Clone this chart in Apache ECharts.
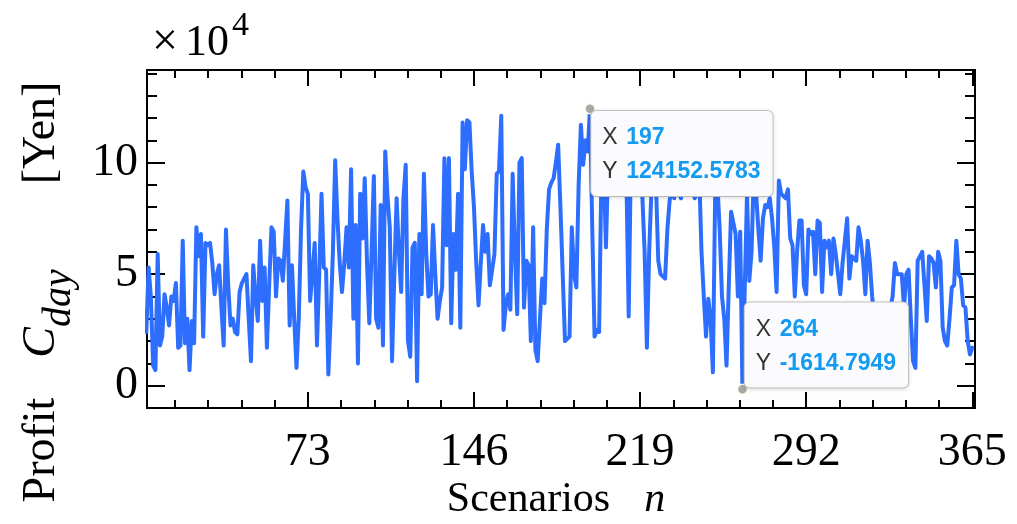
<!DOCTYPE html>
<html><head><meta charset="utf-8">
<script src="https://cdn.jsdelivr.net/npm/echarts@6/dist/echarts.min.js"></script>
<style>html,body{margin:0;padding:0;background:#fff}#c{width:1017px;height:524px}</style>
</head><body><div id="c"></div>
<script>
// Daily profit per scenario (Yen), scenario n = 1..365
const profit = [
25000,24000,53000,40000,9000,7000,59000,18000,22000,41000,
35000,27000,40000,38000,46000,17000,18000,65000,19000,30000,
7000,29000,19000,71000,58000,68000,22000,64000,63000,64000,
55000,41000,50000,54000,35000,18000,70000,45000,27000,30000,
24000,23000,42000,46000,48000,50000,30000,11000,54000,40000,
29000,65000,38000,53000,17000,45000,71000,69000,40000,57000,
56000,47000,65000,83000,27000,54000,30000,8000,30000,70000,
96000,89000,86000,38000,50000,64000,18000,50000,86000,53000,
52000,5000,30000,60000,101000,75000,55000,42000,55000,71000,
53000,97000,30000,72000,10000,86000,66000,93000,55000,28000,
60000,94000,30000,26000,81000,18000,105000,85000,71000,11000,
50000,84000,60000,42000,84000,99000,20000,13000,62000,64000,
2000,68000,41000,95000,60000,40000,41000,72000,50000,30000,
38000,44000,102000,63000,102000,28000,68000,52000,86000,26000,
118000,97000,119000,118000,96000,80000,55000,36000,55000,72000,
60000,68000,45000,52000,59000,95000,96000,121000,25000,36000,
41000,34000,95000,60000,32000,100000,102000,35000,56000,54000,
20000,71000,16000,11000,30000,48000,37000,70000,88000,91000,
93000,100000,108000,80000,50000,20000,21000,22000,71000,50000,
44000,90000,117000,99000,110000,105000,124152.5783,70000,22000,25000,
24000,95000,100000,62000,100000,105000,95000,110000,98000,105000,
112000,100000,93000,31000,105000,100000,110000,95000,100000,85000,
60000,17000,60000,88000,95000,90000,56000,50000,49000,48000,
70000,83000,90000,84000,95000,86000,84000,100000,92000,88000,
105000,90000,84000,86000,95000,60000,40000,22000,39000,30000,
6000,86000,90000,70000,40000,30000,9000,45000,78000,73000,
68000,40000,69000,-1614.7949,43000,86000,47000,60000,96000,86000,
70000,56000,75000,81000,80000,84000,75000,62000,42000,92000,
86000,85000,84000,88000,66000,63000,40000,60000,74000,74000,
45000,41000,70000,68000,69000,50000,74000,73000,42000,65000,
62000,65000,50000,66000,59000,50000,41000,55000,65000,75000,
48000,58000,57000,56000,71000,65000,56000,41000,65000,55000,
40000,30000,20000,35000,25000,15000,30000,20000,35000,40000,
55000,50000,50000,50000,35000,50000,52000,30000,11000,8000,
56000,58000,60000,45000,29000,58000,57000,55000,44000,60000,
56000,26000,20000,18000,30000,44000,45000,65000,50000,48000,
36000,35000,20000,14000,17000
];
const xMajorTicks = [73, 146, 219, 292, 365];
const xMinorTicks = [14.6,29.2,43.8,58.4,87.6,102.2,116.8,131.4,160.6,175.2,189.8,204.4,233.6,248.2,262.8,277.4,306.6,321.2,335.8,350.4];
const yMajorTicks = [0, 50000, 100000];
const yMinorTicks = [-10000,10000,20000,30000,40000,60000,70000,80000,90000,110000,120000,130000,140000];
const yTickText = {0: '0', 50000: '5', 100000: '10'};

const SERIF = '"Liberation Serif","Times New Roman",serif';
const SANS = '"Liberation Sans",Arial,sans-serif';
const XMIN = 2.3, XMAX = 366.2, YMIN = -10000, YMAX = 141500;

const seriesData = profit.map((v, i) => [i + 1, v]);
const maxIdx = profit.indexOf(Math.max(...profit));
const minIdx = profit.indexOf(Math.min(...profit));

function xAx(pos, ticks, len, labels) {
  return {
    type: 'value', position: pos, min: XMIN, max: XMAX,
    axisLine: {show: true, onZero: false, lineStyle: {color: '#000', width: 2}},
    axisTick: {show: true, inside: true, length: len, customValues: ticks, lineStyle: {color: '#000', width: 2}},
    axisLabel: labels ? {show: true, customValues: xMajorTicks, fontSize: 46, fontFamily: SERIF, color: '#000', margin: 22} : {show: false},
    splitLine: {show: false}
  };
}
function yAx(pos, ticks, len, labels) {
  return {
    type: 'value', position: pos, min: YMIN, max: YMAX,
    axisLine: {show: true, onZero: false, lineStyle: {color: '#000', width: 2}},
    axisTick: {show: true, inside: true, length: len, customValues: ticks, lineStyle: {color: '#000', width: 2}},
    axisLabel: labels ? {show: true, customValues: yMajorTicks, formatter: v => yTickText[v] ?? '', fontSize: 46, fontFamily: SERIF, color: '#000', margin: 9} : {show: false},
    splitLine: {show: false}
  };
}

const tipLabel = (dx, dy) => ({
  show: true, position: [dx, dy], align: 'left', verticalAlign: 'top',
  backgroundColor: '#fbfbfe', borderColor: '#c8c8c8', borderWidth: 1, borderRadius: 5,
  padding: [10, 12, 7, 11],
  shadowColor: 'rgba(0,0,0,0.12)', shadowBlur: 4, shadowOffsetY: 1,
  formatter: p => `{k|X}{v|${p.data.coord[0]}}\n{k|Y}{v|${p.data.coord[1]}}`,
  rich: {
    k: {color: '#333', fontSize: 23, fontFamily: SANS, lineHeight: 34, width: 24},
    v: {color: '#139bf1', fontSize: 23, fontFamily: SANS, fontWeight: 'bold', lineHeight: 34}
  }
});

const chart = echarts.init(document.getElementById('c'), null, {renderer: 'canvas'});
chart.setOption({
  animation: false,
  backgroundColor: '#fff',
  grid: {left: 147, right: 42, top: 70, bottom: 116, containLabel: false},
  xAxis: [
    xAx('bottom', xMinorTicks, 8, true),
    xAx('bottom', xMajorTicks, 16, false),
    xAx('top', xMinorTicks, 8, false),
    xAx('top', xMajorTicks, 16, false)
  ],
  yAxis: [
    yAx('left', yMinorTicks, 10, true),
    yAx('left', yMajorTicks, 18, false),
    yAx('right', yMinorTicks, 10, false),
    yAx('right', yMajorTicks, 18, false)
  ],
  series: [{
    type: 'line', xAxisIndex: 0, yAxisIndex: 0,
    data: seriesData, showSymbol: false, symbol: 'none', clip: true,
    lineStyle: {color: '#2d6eff', width: 4, join: 'round', cap: 'round'},
    emphasis: {disabled: true},
    markPoint: {
      symbol: 'circle', symbolSize: 10,
      itemStyle: {color: '#a8a8a8', borderColor: '#fffbe8', borderWidth: 1.5},
      emphasis: {disabled: true},
      data: [
        {coord: [maxIdx + 1, profit[maxIdx]], label: tipLabel(7, 8)},
        {coord: [minIdx + 1, profit[minIdx]], label: tipLabel(8, -81)}
      ]
    }
  }],
  graphic: [
    {
      type: 'text', x: 152, y: 43,
      style: {
        text: '{x|×}{g|}{m|10}',
        verticalAlign: 'middle',
        rich: {
          x: {fontSize: 46, fontFamily: SERIF, fill: '#000', lineHeight: 50},
          g: {width: 7, lineHeight: 50},
          m: {fontSize: 44, fontFamily: SERIF, fill: '#000', lineHeight: 50}
        }
      }
    },
    {
      type: 'text', x: 232, y: 26,
      style: {text: '4', fontSize: 34, fontFamily: SERIF, fill: '#000', verticalAlign: 'middle'}
    },
    {
      type: 'text', x: 42, y: 292, rotation: Math.PI / 2,
      style: {
        text: '{a|Profit}{g1|}{i|C}{s|day}{g2|}{a|[Yen]}',
        align: 'center', verticalAlign: 'middle',
        rich: {
          a: {fontSize: 46, fontFamily: SERIF, fill: '#000', lineHeight: 74},
          i: {fontSize: 46, fontFamily: SERIF, fontStyle: 'italic', fill: '#000', lineHeight: 74},
          s: {fontSize: 40, fontFamily: SERIF, fontStyle: 'italic', fill: '#000', lineHeight: 34, verticalAlign: 'bottom'},
          g1: {width: 40, lineHeight: 74},
          g2: {width: 85, lineHeight: 74}
        }
      }
    },
    {
      type: 'text', x: 556, y: 500,
      style: {
        text: '{a|Scenarios}{g|}{i|n}',
        align: 'center', verticalAlign: 'middle',
        rich: {
          a: {fontSize: 42, fontFamily: SERIF, fill: '#000', lineHeight: 50},
          i: {fontSize: 42, fontFamily: SERIF, fontStyle: 'italic', fill: '#000', lineHeight: 50},
          g: {width: 34, lineHeight: 50}
        }
      }
    }
  ]
});
</script>
</body></html>
